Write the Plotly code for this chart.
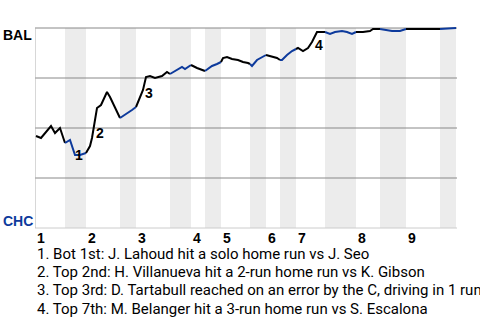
import plotly.graph_objects as go

# Game progress (plate-appearance scale) and BAL win probability
progress = [0.2, 1.2, 3.2, 4.0, 5.0, 6.0, 7.0, 8.0, 9.0, 10.2,
            11.0, 11.4, 12.4, 13.2, 14.4, 15.0, 16.0, 17.0, 18.0, 19.4,
            20.2, 21.0, 21.6, 22.2, 23.0, 24.0, 25.4, 26.4, 27.0, 28.4,
            29.4, 30.0, 31.2, 32.4, 34.0, 35.4, 36.4, 37.2, 37.6, 38.4,
            39.4, 40.6, 41.6, 42.6, 43.0, 43.4, 44.4, 45.4, 46.2, 47.4,
            48.4, 49.0, 49.4, 50.4, 51.4, 52.2, 52.6, 53.6, 54.6, 55.4,
            56.0, 56.4, 58.0, 59.0, 60.0, 61.4, 62.4, 63.4, 64.2, 65.6,
            67.0, 67.6, 69.0, 70.0, 71.4, 73.0, 74.2, 81.0, 84.2]
bal_wp = [0.46, 0.45, 0.51, 0.475, 0.50, 0.425, 0.44, 0.365, 0.365, 0.375,
          0.41, 0.45, 0.60, 0.615, 0.68, 0.655, 0.60, 0.55, 0.565, 0.59,
          0.605, 0.65, 0.69, 0.755, 0.76, 0.75, 0.76, 0.78, 0.77, 0.79,
          0.805, 0.795, 0.815, 0.80, 0.785, 0.81, 0.82, 0.83, 0.85, 0.855,
          0.845, 0.84, 0.83, 0.825, 0.82, 0.81, 0.84, 0.855, 0.865, 0.855,
          0.85, 0.84, 0.84, 0.865, 0.885, 0.895, 0.90, 0.885, 0.90, 0.93,
          0.965, 0.98, 0.98, 0.97, 0.98, 0.985, 0.98, 0.97, 0.98, 0.98,
          0.985, 0.995, 0.995, 0.99, 0.985, 0.985, 0.995, 0.995, 1.0]

# Half-inning boundaries on the progress scale (top1, bot1, top2, ...)
half_bounds = [0, 6.0, 10.2, 17.0, 20.2, 27.0, 31.2, 34.0, 37.2, 43.0,
               46.2, 49.0, 52.2, 58.0, 64.2, 69.0, 74.2, 81.0, 84.2]
inning_labels = ["1", "2", "3", "4", "5", "6", "7", "8", "9"]

# Key events: label, progress, win prob of label position
event_labels = ["1", "2", "3", "4"]
event_x = [8.8, 12.9, 22.8, 56.8]
event_y = [0.365, 0.475, 0.675, 0.915]
event_texts = [
    "1. Bot 1st: J. Lahoud hit a solo home run vs J. Seo",
    "2. Top 2nd: H. Villanueva hit a 2-run home run vs K. Gibson",
    "3. Top 3rd: D. Tartabull reached on an error by the C, driving in 1 run",
    "4. Top 7th: M. Belanger hit a 3-run home run vs S. Escalona",
]

BLUE = "#0d3a9c"
XMAX = 84.4

fig = go.Figure()

# Line segments coloured by batting team per half-inning
for i in range(len(half_bounds) - 1):
    a, b = half_bounds[i], half_bounds[i + 1]
    xs, ys = [], []
    for x, y in zip(progress, bal_wp):
        if a - 1e-6 <= x <= b + 1e-6:
            xs.append(x)
            ys.append(y)
    fig.add_trace(go.Scatter(
        x=xs, y=ys, mode="lines",
        line=dict(color="black" if i % 2 == 0 else BLUE, width=2),
        hoverinfo="skip", showlegend=False))

shapes = []
# shaded bottom halves
for i in range(1, len(half_bounds) - 1, 2):
    shapes.append(dict(type="rect", xref="x", yref="y",
                       x0=half_bounds[i], x1=half_bounds[i + 1], y0=0, y1=1,
                       fillcolor="#ececec", line=dict(width=0), layer="below"))
# grid lines
for g in [0.25, 0.5, 0.75, 1.0]:
    shapes.append(dict(type="line", xref="x", yref="y", x0=0, x1=XMAX, y0=g, y1=g,
                       line=dict(color="#888888", width=1), layer="below"))
shapes.append(dict(type="line", xref="x", yref="y", x0=0, x1=XMAX, y0=0, y1=0,
                   line=dict(color="#cccccc", width=1), layer="below"))
shapes.append(dict(type="line", xref="x", yref="y", x0=0, x1=0, y0=0, y1=1,
                   line=dict(color="#b0b0b0", width=1), layer="below"))

annotations = []
bold = dict(family="Liberation Sans", size=14, color="black")
annotations.append(dict(text="<b>BAL</b>", xref="paper", yref="paper",
                        x=-0.08, y=0.9495, xanchor="left", yanchor="middle",
                        showarrow=False, font=bold))
annotations.append(dict(text="<b>CHC</b>", xref="paper", yref="paper",
                        x=-0.08, y=0.053, xanchor="left", yanchor="middle",
                        showarrow=False, font=dict(family="Liberation Sans", size=14, color=BLUE)))
for lbl, x, y in zip(event_labels, event_x, event_y):
    annotations.append(dict(text="<b>%s</b>" % lbl, x=x, y=y, xref="x", yref="y",
                            showarrow=False, font=bold))
inning_starts = half_bounds[0::2][:9]
for lbl, x in zip(inning_labels, inning_starts):
    annotations.append(dict(text="<b>%s</b>" % lbl, x=x, y=-0.029, xref="x", yref="paper",
                            xanchor="left", yanchor="middle", xshift=0,
                            showarrow=False, font=bold))
for k, t in enumerate(event_texts):
    annotations.append(dict(text=t, x=0, y=-0.1058 - k * 0.0875, xref="paper", yref="paper",
                            xanchor="left", yanchor="middle", showarrow=False,
                            font=dict(family="Roboto", size=15, color="black")))

fig.update_layout(
    width=480, height=320,
    margin=dict(l=35, r=23, t=24, b=88),
    paper_bgcolor="white", plot_bgcolor="white",
    xaxis=dict(range=[0, XMAX], visible=False, fixedrange=True),
    yaxis=dict(range=[-0.02, 1.02], visible=False, fixedrange=True),
    shapes=shapes, annotations=annotations, showlegend=False,
)

fig.write_html("out.html", config={"displayModeBar": False})
